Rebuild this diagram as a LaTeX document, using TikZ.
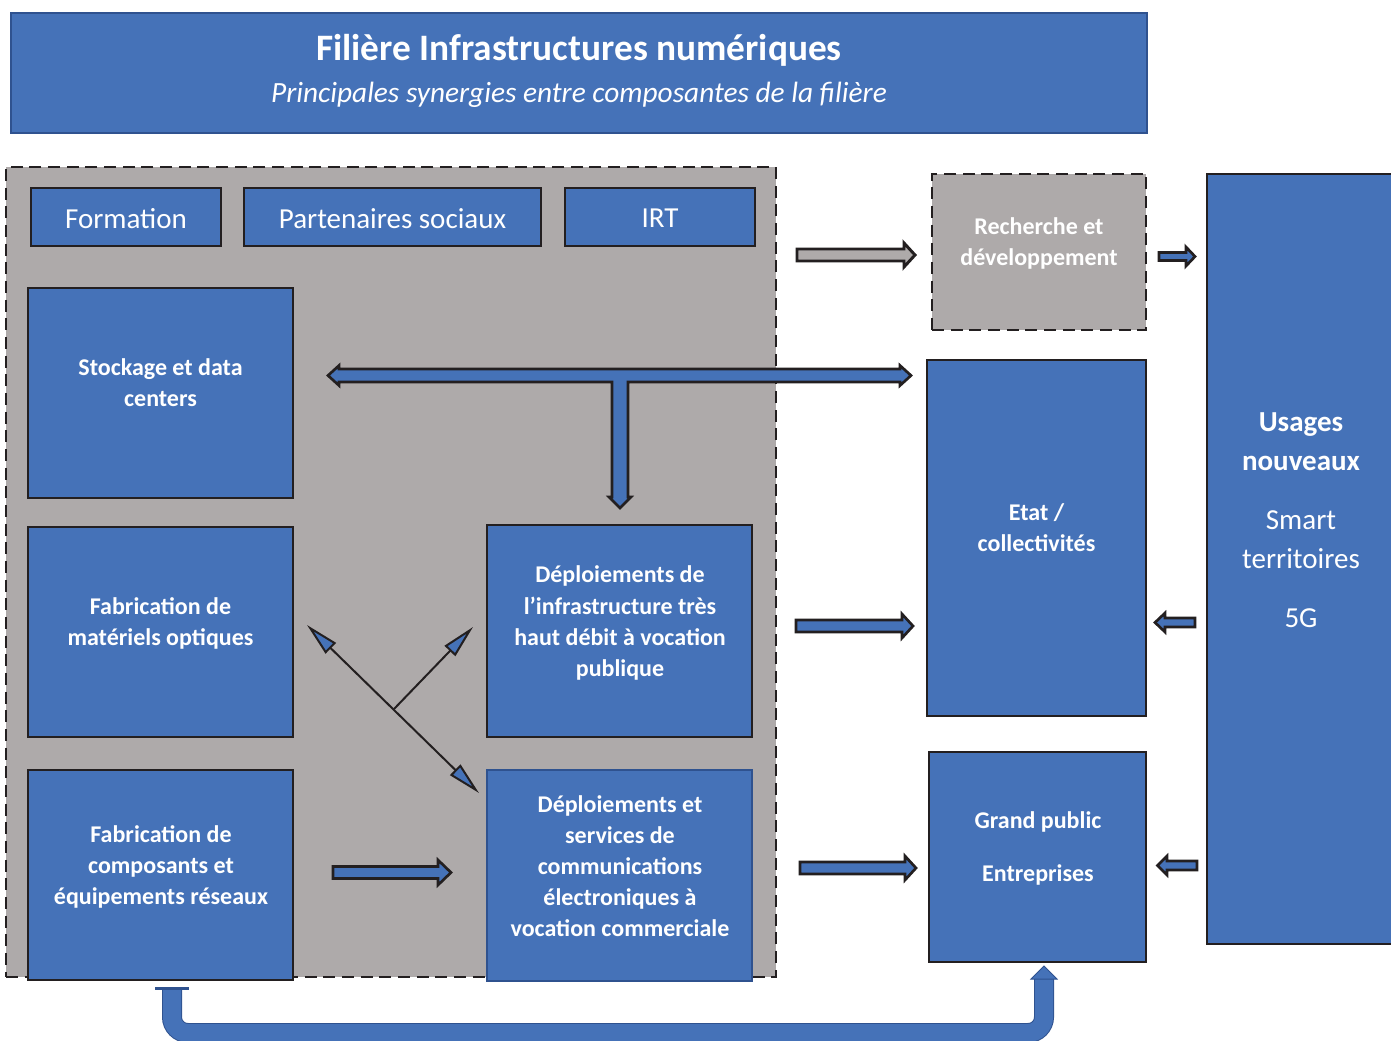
\documentclass[tikz,border=0pt]{standalone}
\usepackage{fontspec}
\setmainfont{Carlito}
\usetikzlibrary{arrows.meta}

\definecolor{boxblue}{RGB}{69,114,184}
\definecolor{deepblue}{RGB}{47,82,143}
\definecolor{panel}{RGB}{174,170,170}
\definecolor{edge}{RGB}{35,31,32}

% block arrow: [style]{tail x}{head base x}{tip x}{y}{half shaft}{half head}
\newcommand{\blockarrow}[7][]{%
  \draw[#1] (#2,#5-#6) -- (#3,#5-#6) -- (#3,#5-#7) -- (#4,#5)
    -- (#3,#5+#7) -- (#3,#5+#6) -- (#2,#5+#6) -- cycle;}

\begin{document}
\begin{tikzpicture}[x=0.75pt, y=-0.75pt,
  sz/.style 2 args={minimum width=#1*0.75pt, minimum height=#2*0.75pt, inner sep=0pt, outer sep=0pt},
  box/.style={draw=edge, fill=boxblue, line width=2pt},
  dbox/.style={draw=edge, fill=panel, line width=1.8pt, dash pattern=on 9pt off 5pt},
  head/.style={text=white, align=center, font=\fontsize{21.75}{26}\selectfont},
  lbl/.style={text=white, align=center, font=\bfseries\fontsize{18}{23.3}\selectfont},
  barr/.style={draw=edge, fill=boxblue, line width=2pt, line join=miter},
  garr/.style={draw=edge, fill=panel, line width=2.2pt, line join=miter},
  link/.style={draw=edge, line width=1.5pt},
  >={Triangle[length=25pt, width=11pt, fill=boxblue]},
  uturn/.style={draw=deepblue, double=boxblue, double distance=13.5pt, line width=0.75pt, rounded corners=12pt}]
\useasboundingbox (0,0) rectangle (1391,1040);
\clip (0,0) rectangle (1391,1040);

% title
\node[sz={1136}{120}, draw=deepblue, fill=boxblue, line width=1.9pt] (title) at (579,73) {};
\node[head, font=\bfseries\fontsize{28}{33}\selectfont] (title-l) at (579,50) {Filière Infrastructures numériques};
\node[head, font=\itshape\fontsize{22}{26}\selectfont] (sub-l) at (579,95) {Principales synergies entre composantes de la filière};

% left panel
\node[sz={770}{810}, dbox] (grp) at (391,572) {};
\node[sz={190}{58}, box] (form) at (126,217) {};
\node[sz={297}{58}, box] (part) at (392.5,217) {};
\node[sz={190}{58}, box] (irt) at (660,217) {};
\node[head] (form-l) at (126,218.5) {Formation};
\node[head] (part-l) at (392.5,218.5) {Partenaires sociaux};
\node[head] (irt-l) at (660,218.5) {IRT};

\node[sz={265}{210}, box] (stock) at (160.5,393) {};
\node[sz={265}{210}, box] (optic) at (160.5,632) {};
\node[sz={265}{210}, box] (compo) at (160.5,875) {};
\node[sz={265}{212}, box] (thd) at (619.5,631) {};
\node[sz={265}{211}, box, draw=deepblue, line width=1.2pt] (comm) at (619.5,875.5) {};
\node[lbl] (stock-l) at (160.5,383) {Stockage et data\\centers};
\node[lbl] (optic-l) at (160.5,623) {Fabrication de\\matériels optiques};
\node[lbl] (compo-l) at (161,867) {Fabrication de\\composants et\\équipements réseaux};
\node[lbl] (thd-l) at (620,623) {Déploiements de\\l’infrastructure très\\haut débit à vocation\\publique};
\node[lbl] (comm-l) at (620,866) {Déploiements et\\services de\\communications\\électroniques à\\vocation commerciale};

% right column
\node[sz={214}{156}, dbox] (rd) at (1039,252) {};
\node[sz={219}{356}, box] (etat) at (1036.5,538) {};
\node[sz={217}{210}, box] (grand) at (1037.5,857) {};
\node[sz={193}{770}, box] (usage) at (1303.5,559) {};
\node[lbl] (rd-l) at (1039,243) {Recherche et\\développement};
\node[lbl] (etat-l) at (1036.5,528) {Etat /\\collectivités};
\node[lbl] (grand-l) at (1038,848.5) {Grand public\\[16pt]Entreprises};
\node[head, font=\fontsize{21.75}{29.25}\selectfont] (usage-l) at (1301,520)
  {\textbf{Usages}\\\textbf{nouveaux}\\[15pt]Smart\\territoires\\[15pt]5G};

% block arrows
\blockarrow[garr]{797}{904}{915}{255}{6}{12}
\blockarrow[barr]{1159}{1186}{1195}{256.5}{4}{9.5}
\blockarrow[barr]{796}{902}{913}{626}{6}{12}
\blockarrow[barr]{800}{905}{916}{868}{6}{12}
\blockarrow[barr]{333}{438}{451}{872.5}{6}{12.5}
\blockarrow[barr]{1195}{1165}{1155}{622.5}{4.5}{9.5}
\blockarrow[barr]{1197}{1167}{1157.5}{865.5}{4.5}{9.5}
\draw[barr] (328,375.5) -- (339,365.5) -- (339,369) -- (900,369) -- (900,365.5)
  -- (911,375.5) -- (900,385.5) -- (900,382) -- (628,382) -- (628,497) -- (631,497)
  -- (620,508) -- (609,497) -- (612,497) -- (612,382) -- (339,382) -- (339,385.5) -- cycle;

% thin arrows
\coordinate (jn) at (394,709);
\coordinate (to-optic) at (307,625);
\coordinate (to-comm) at (479,793);
\coordinate (to-thd) at (473,627);
\draw[link, <->] (to-optic) -- (to-comm);
\draw[link, ->] (jn) -- (to-thd);

% return loop
\draw[uturn] (172,988) -- (172,1033) -- (1044,1033) -- (1044,979);
\draw[deepblue, line width=2.25pt] (155,988) -- (189,988);
\fill[boxblue, draw=deepblue, line width=0.75pt] (1031,979) -- (1044,966) -- (1057,979) -- cycle;
\end{tikzpicture}
\end{document}
